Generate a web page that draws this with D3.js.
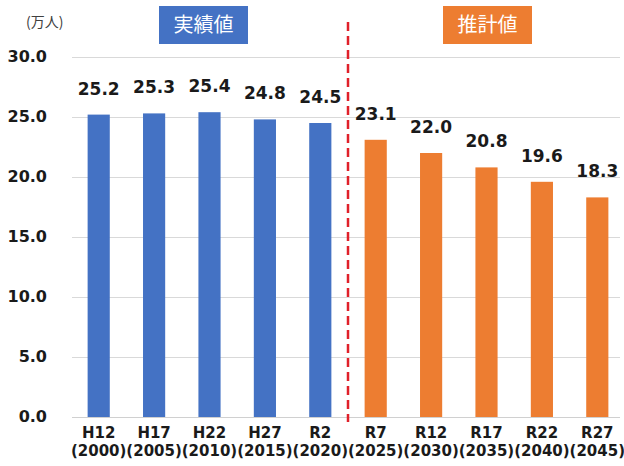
<!DOCTYPE html>
<html><head><meta charset="utf-8">
<script src="https://cdn.jsdelivr.net/npm/d3@7"></script>
<style>body{margin:0;background:#fff}svg{display:block}</style>
</head><body>
<svg id="c" width="624" height="466"></svg>
<script>
const categories = ["H12","H17","H22","H27","R2","R7","R12","R17","R22","R27"];
const years = ["(2000)","(2005)","(2010)","(2015)","(2020)","(2025)","(2030)","(2035)","(2040)","(2045)"];
const values = [25.2,25.3,25.4,24.8,24.5,23.1,22.0,20.8,19.6,18.3];
const kinds = ["実績","実績","実績","実績","実績","推計","推計","推計","推計","推計"];
const yTicks = [0,5,10,15,20,25,30];
const legendLabels = ["実績値","推計値"];

const svg = d3.select("#c");
const colors = {"実績":"#4472C4","推計":"#ED7D31"};
const x = d3.scaleBand().domain(categories).range([71,625]).paddingInner(0.6).paddingOuter(0.3);
const y = d3.scaleLinear().domain([0,30]).range([417,57]);
const fontLatin = "'DejaVu Sans', Verdana, sans-serif";
const fontCJK = "'Noto Sans CJK JP', sans-serif";

// gridlines
svg.append("g").selectAll("line").data(yTicks).join("line")
  .attr("x1",72).attr("x2",620)
  .attr("y1",d=>y(d)+0.5).attr("y2",d=>y(d)+0.5)
  .attr("stroke",d=>d===0?"#d0d0d0":"#d9d9d9").attr("stroke-width",1);

// y tick labels
svg.append("g").selectAll("text").data(yTicks).join("text")
  .attr("x",47).attr("y",d=>y(d)-1).attr("dy","0.35em")
  .attr("text-anchor","end").attr("font-family",fontLatin).attr("font-weight","bold")
  .attr("font-size",16).attr("fill","#1a1a1a").text(d=>d.toFixed(1));

// unit
svg.append("text").attr("x",26).attr("y",27).attr("font-family",fontCJK)
  .attr("font-size",14).attr("fill","#404040").text("(万人)");

// bars
svg.append("g").selectAll("rect").data(values).join("rect")
  .attr("x",(d,i)=>x(categories[i])).attr("width",x.bandwidth())
  .attr("y",d=>y(d)).attr("height",d=>y(0)-y(d))
  .attr("fill",(d,i)=>colors[kinds[i]]);

// value labels
svg.append("g").selectAll("text").data(values).join("text")
  .attr("x",(d,i)=>x(categories[i])+x.bandwidth()/2).attr("y",d=>y(d)-20)
  .attr("text-anchor","middle").attr("font-family",fontLatin).attr("font-weight","bold")
  .attr("font-size",17).attr("fill","#1a1a1a").text(d=>d.toFixed(1));

// x labels
const xl = svg.append("g").selectAll("g").data(categories).join("g");
xl.append("text").attr("x",d=>x(d)+x.bandwidth()/2).attr("y",438)
  .attr("text-anchor","middle").attr("font-family",fontLatin).attr("font-weight","bold")
  .attr("font-size",15).attr("fill","#1a1a1a").text(d=>d);
xl.append("text").attr("x",d=>x(d)+x.bandwidth()/2).attr("y",456)
  .attr("text-anchor","middle").attr("font-family",fontLatin).attr("font-weight","bold")
  .attr("font-size",15).attr("fill","#1a1a1a").text((d,i)=>years[i]);

// divider
const divX = (x(categories[4])+x.bandwidth() + x(categories[5]))/2;
svg.append("line").attr("x1",divX).attr("x2",divX).attr("y1",22).attr("y2",422)
  .attr("stroke","#E0202A").attr("stroke-width",2.5).attr("stroke-dasharray","9,5");

// legend boxes
const boxes = [{t:legendLabels[0],c:colors["実績"],x:159},{t:legendLabels[1],c:colors["推計"],x:443}];
const lg = svg.append("g").selectAll("g").data(boxes).join("g");
lg.append("rect").attr("x",d=>d.x).attr("y",6).attr("width",89).attr("height",38).attr("fill",d=>d.c);
lg.append("text").attr("x",d=>d.x+44.5).attr("y",25).attr("dy","0.36em")
  .attr("text-anchor","middle").attr("font-family",fontCJK).attr("font-size",20)
  .attr("fill","#fff").text(d=>d.t);
</script>
</body></html>
